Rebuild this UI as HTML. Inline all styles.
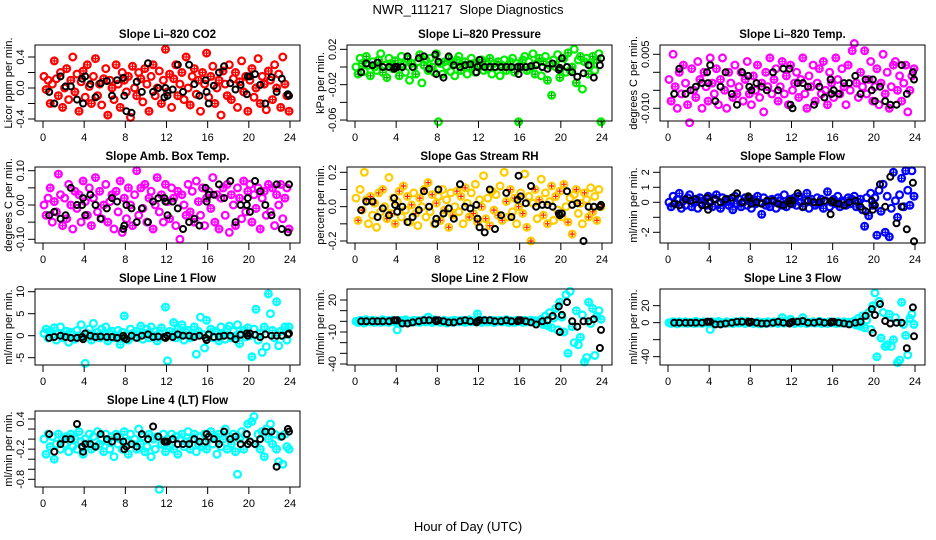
<!DOCTYPE html>
<html><head><meta charset="utf-8"><title>NWR_111217 Slope Diagnostics</title>
<style>
html,body{margin:0;padding:0;background:#fff;}
svg{display:block;font-family:"Liberation Sans",Arial,sans-serif;}
</style></head>
<body>
<svg id="chart" width="936" height="540" viewBox="0 0 936 540" xmlns="http://www.w3.org/2000/svg">
<rect width="936" height="540" fill="#fff"/>
<text x="468" y="14" text-anchor="middle" font-size="13" xml:space="preserve">NWR_111217  Slope Diagnostics</text>
<text x="468" y="531" text-anchor="middle" font-size="13">Hour of Day (UTC)</text>
</svg>
<script>
// ---- data ----
const colorHours = [0.1,0.3,0.5,0.7,0.9,1.1,1.3,1.5,1.7,1.9,2.1,2.3,2.5,2.7,2.9,3.1,3.3,3.5,3.7,3.9,4.1,4.3,4.5,4.7,4.9,5.1,5.3,5.5,5.7,5.9,6.1,6.3,6.5,6.7,6.9,7.1,7.3,7.5,7.7,7.9,8.1,8.3,8.5,8.7,8.9,9.1,9.3,9.5,9.7,9.9,10.1,10.3,10.5,10.7,10.9,11.1,11.3,11.5,11.7,11.9,12.1,12.3,12.5,12.7,12.9,13.1,13.3,13.5,13.7,13.9,14.1,14.3,14.5,14.7,14.9,15.1,15.3,15.5,15.7,15.9,16.1,16.3,16.5,16.7,16.9,17.1,17.3,17.5,17.7,17.9,18.1,18.3,18.5,18.7,18.9,19.1,19.3,19.5,19.7,19.9,20.1,20.3,20.5,20.7,20.9,21.1,21.3,21.5,21.7,21.9,22.1,22.3,22.5,22.7,22.9,23.1,23.3,23.5,23.7,23.9];
const refHours = [0.6,1.1,1.7,2.2,2.7,3.3,3.8,3.9,4.1,4.6,5.1,5.6,6.2,6.7,7.2,7.8,7.9,8.1,8.6,9.1,9.6,10.2,10.7,11.2,11.8,11.9,12.1,12.6,13.1,13.6,14.2,14.7,15.2,15.8,15.9,16.1,16.6,17.1,17.6,18.2,18.7,19.2,19.8,19.9,20.1,20.6,21.1,21.6,22.2,22.7,23.2,23.8,23.9];

const co2Vals = [.15,-.02,.1,-.2,.05,.35,.12,-.1,.2,-.25,.0,.25,-.15,.1,.4,-.05,.18,-.3,.08,.22,-.12,.3,.02,-.2,.15,.38,-.1,.05,-.22,.12,.25,-.35,.1,.0,-.15,.3,.05,-.25,.2,.1,-.05,.15,-.38,.28,.0,-.1,.2,.12,-.18,.25,.05,-.3,.15,.3,-.1,.0,.22,-.2,.1,.5,-.05,.18,-.25,.12,.3,-.1,.05,.2,-.15,.4,.0,-.22,.15,.25,-.08,.1,-.3,.2,.05,.45,-.12,.15,.28,-.2,.0,.1,-.35,.22,.05,-.1,.3,-.15,.12,.2,-.25,.08,.35,-.05,.15,-.3,.1,.25,-.12,.0,.38,-.2,.15,.05,-.28,.22,.1,-.15,.3,.0,.18,-.25,.4,.05,-.1,-.3];
const co2Ref = [-.05,-.2,.15,.02,.02,-.15,.12,-.2,.15,.05,-.12,.06,.09,-.1,.1,.13,-.1,-.3,-.32,.08,-.05,.32,-.05,.0,-.12,.0,-.1,-.02,.3,-.05,.3,.05,-.1,.1,-.05,-.2,.03,.2,.28,.06,-.02,.04,-.08,.15,.15,.18,.04,-.2,.14,-.05,.12,-.08,-.1];

const presVals = [.0,-.008,.01,.004,-.005,.012,.002,-.01,.006,.0,-.004,.008,.015,-.006,.002,-.012,.01,.004,-.002,.007,.0,-.01,.012,.003,-.006,.009,-.015,.004,.0,-.008,.006,.014,-.018,.002,.008,-.004,.01,.0,-.006,.015,-.062,.004,-.008,.006,.0,.01,-.005,.003,-.01,.008,.012,-.004,.002,.006,-.008,.0,.01,.004,-.006,.003,.0,.008,-.004,.006,-.002,.01,-.008,.004,.0,.006,-.01,.002,.008,-.004,.0,.006,.01,-.006,.004,-.062,.002,.008,.012,-.004,.006,.0,.015,-.008,.004,.01,-.01,.006,.012,-.015,.002,-.032,.008,.0,.014,-.012,.004,.01,-.006,.016,-.004,.0,.02,-.018,.008,.012,-.025,.006,.01,-.008,.002,.012,-.004,.008,.015,-.062];
const presRef = [-.006,.004,.002,.005,.0,.0,-.002,.0,.0,.0,.012,.0,.01,.012,-.002,.014,-.008,.006,-.012,.012,.002,.0,.002,.003,-.006,.0,.008,.0,.0,.0,.0,.0,.0,.0,-.008,.0,.0,.001,.002,.0,-.002,.004,-.003,-.001,.01,.0,-.006,-.011,-.007,.002,-.012,.002,.01];

const tempVals = [-.002,-.008,.005,-.004,-.01,.0,-.006,.002,-.003,-.009,-.014,.001,-.005,-.007,.003,-.002,-.01,.0,-.004,-.008,.004,-.003,-.006,.001,-.009,-.002,.004,-.005,-.01,.0,-.003,-.007,.002,-.006,-.004,.0,-.008,-.002,.003,-.006,-.009,-.001,-.005,.002,-.007,-.003,-.011,.0,-.004,.004,-.006,-.002,.001,-.008,-.004,.003,-.006,-.001,-.009,.002,-.005,-.003,.0,-.007,-.002,.004,-.006,-.01,-.001,-.004,.002,-.008,-.003,.001,-.006,.003,-.005,-.009,.0,-.003,-.007,.004,-.002,-.006,.001,-.004,-.009,.002,-.005,.006,.008,-.003,-.007,.0,-.004,.006,-.006,-.002,.003,-.008,-.004,.001,-.009,-.003,.005,-.006,.0,-.01,-.004,.002,.003,-.005,-.001,-.008,-.003,.002,-.011,-.005,-.001,.001];
const tempRef = [-.006,.001,-.006,-.005,-.004,-.003,.0,-.003,.002,-.008,-.004,.0,-.006,-.009,.0,-.001,-.004,-.005,-.003,-.004,-.005,.0,-.005,.001,.001,-.009,-.01,-.003,-.003,-.004,-.009,-.004,-.007,-.002,-.006,-.005,-.006,-.003,-.003,-.001,-.006,-.002,-.005,-.002,-.008,-.004,-.008,-.009,-.009,.002,-.006,.0,-.002];

const ambVals = [.0,-.03,.02,.05,-.05,.01,-.02,.09,.03,-.06,.02,-.04,.06,.0,-.07,.04,-.01,.03,-.05,.07,.01,-.03,.05,-.06,.02,.08,-.02,.04,-.04,.0,.06,-.05,.01,.03,-.07,.04,-.02,.07,-.08,.02,-.04,.05,.0,-.06,.03,.1,-.03,.05,-.01,.06,-.05,.02,.04,-.07,.0,.08,-.02,.03,-.05,.06,.01,-.04,.05,.02,-.06,.04,-.1,.03,.0,-.03,.06,-.02,.04,-.05,.07,.01,-.03,.05,-.06,.02,.04,-.01,.08,-.05,.03,-.07,.02,.05,-.03,.06,-.08,.03,.0,-.06,.05,.02,-.04,.07,-.02,.04,.06,-.05,.03,-.01,.05,-.07,.02,.04,-.03,.06,-.02,.05,-.06,.03,.0,.06,-.04,.02,.05,-.07];
const ambRef = [-.03,-.02,-.04,-.03,.05,.0,.0,.02,-.03,.03,.0,-.04,-.01,.02,.01,-.07,-.06,.0,-.01,-.05,-.01,-.05,.01,.02,.02,.01,-.03,.01,-.01,-.07,-.05,-.04,-.06,.05,.01,.03,.03,.06,.02,.07,-.05,.0,.0,.02,-.02,.07,.04,.0,-.03,.06,-.07,-.08,.06];

const rhVals = [.05,-.08,.1,-.02,.2,.04,-.1,.06,-.05,.02,-.12,.08,-.03,.1,.0,-.07,.17,-.04,.05,-.1,.03,.09,-.06,.12,-.02,.06,-.09,.01,.08,-.04,-.11,.05,.0,.1,-.06,.14,-.03,.07,-.1,.02,.06,-.08,.1,-.02,.04,-.12,.08,-.05,.0,.09,-.03,.06,-.1,.11,.02,-.06,.08,-.04,.13,-.09,.04,.0,.18,-.07,.05,-.11,.09,-.02,.07,-.05,.12,-.08,.2,.03,-.06,.1,-.03,.05,-.1,.0,.08,-.04,.19,-.12,.06,-.2,.02,.1,-.07,.04,.16,-.05,.08,-.1,.03,.12,-.08,.06,-.02,.09,-.06,.13,.0,-.09,.05,-.16,.07,.1,-.04,.02,-.1,.08,.04,-.06,.11,-.03,.06,-.08,.1,.0];
const rhRef = [-.02,.03,.03,-.06,-.01,-.05,.05,.01,-.03,.0,-.09,-.06,-.02,.09,.0,-.1,-.07,.1,-.04,-.01,-.07,.13,.0,-.01,.01,-.07,-.12,-.15,.1,-.13,-.05,.08,-.06,.04,.18,.06,.02,.12,.0,.01,.01,.0,-.04,-.05,-.04,.09,.01,.02,-.2,.0,.0,.0,.01];

const sampVals = [.0,-.3,.4,-.1,.2,.6,-.4,.1,-.2,.3,.5,-.3,.0,.2,-.4,.3,-.1,.1,-.2,.4,.0,-.3,.2,.5,-.1,-.4,.3,.0,.2,-.2,.1,-.5,.4,-.1,.2,-.3,.0,.3,-.2,.1,-.4,.2,-.1,.4,.0,-.8,.3,-.2,.1,-.3,.2,.0,-.4,.3,.1,-.2,.5,-.3,.0,.2,-.1,.3,-.2,.4,.0,-.3,.1,.6,-.4,.2,.0,-.2,.3,-.1,.2,-.4,.1,.7,-.3,.0,.2,-.1,.4,-.3,.1,.0,-.2,.3,-.1,.2,.4,-.3,.0,.2,-.5,-1.6,.3,-.9,.6,-.2,.3,-2.2,.8,-.6,1.2,-2.0,.4,-2.3,-.4,2.0,.1,-1.0,.5,1.6,-.3,2.1,.8,-.2,2.1,.4];
const sampRef = [-.1,-.2,.2,.1,.2,-.2,.3,-.5,.0,.2,.0,.2,.3,.6,.0,.4,.3,-.1,.0,-.1,.1,.1,-.1,-.2,.1,-.1,.1,.6,-.3,.1,.0,.0,.1,-.8,.1,.0,-.1,-.2,.0,.1,-.3,-.6,.1,-.5,-.2,1.2,-.3,1.7,-1.4,-.3,-1.8,1.3,-2.6];

const line1Vals = [.5,1.5,-.5,1.0,.0,1.8,-1.0,.5,2.0,-.5,.0,1.0,-1.5,.8,.3,-.8,1.2,.0,2.5,-.3,-6.3,.5,1.5,-1.0,2.8,.0,.8,-.5,1.5,.2,2.0,-1.2,.5,1.0,-.5,.0,1.2,-2.0,.8,4.5,.0,-1.0,1.5,.5,-.3,1.0,.2,2.2,-.8,.5,1.5,-.5,2.0,.0,1.0,-1.2,.6,1.8,-.3,6.5,-5.7,1.0,.2,3.0,-.5,1.5,.0,2.5,-1.0,.8,1.2,-.5,.0,2.0,-4.2,1.0,4.2,.3,-2.8,3.5,.0,1.5,-.5,1.0,.8,-1.2,2.0,.3,-.8,1.5,2.2,-.5,1.0,.0,2.5,-1.8,.5,1.2,-.3,1.8,.0,-4.8,1.5,6.0,-1.0,.5,-3.8,2.0,-2.5,9.5,5.0,1.2,-.5,7.7,-2.3,1.0,.0,2.0,-1.0,2.0];
const line1Ref = [-.5,-.3,.0,-.3,-.5,-.5,-.3,-.8,.5,.0,-.3,-.2,-.3,-.3,-.5,.0,-.5,-.8,.0,-.5,.0,.3,-.3,-.2,-.3,-.5,.0,-.3,.3,.0,.0,-.3,.0,-.5,-1.0,.3,-.3,-.2,.0,.0,-.8,.2,.5,.0,.5,.2,-.3,.3,.0,.0,.0,.3,.5];

const line2Vals = [0,-1,1,.5,-1.5,1.5,0,-.5,1,-1,.5,0,-1,1.5,-.5,.5,-1,1,0,-.5,-8,1,0,-1,1.5,.5,-1,0,1,-.5,.5,-1,1,0,-.5,4,0,-1,1.5,.5,0,-1,.5,1,-1.5,0,.5,-1,1,0,-.5,1,0,-1,.5,1.5,-.5,0,1,7,0,-1,1,.5,-.5,0,1,-1,.5,0,1,-.5,0,1.5,-1,.5,0,-1,1,0,.5,-1,1,-.5,0,1,-.5,.5,0,-1,2,-3,5,-4,8,-6,3,12,-8,18,4,-10,25,-30,28,-5,-20,10,-22,-15,6,-38,-34,18,-2,12,-32,5,10,2];
const line2Ref = [0,0,0,0,0,0,1,1,1,-2,-2,-1,0,1,1,1,0,1,0,-1,-1,0,1,0,-1,0,1,1,1,0,0,1,0,0,1,1,0,-1,-3,0,1,5,14,-10,6,18,0,-5,0,0,2,-25,-8];

const line3Vals = [0,-1,1,.5,-1.5,1,0,-.5,1,-1,.5,0,-1,1.5,-.5,.5,-1,1,0,-.5,-8,1,0,-1,1.5,.5,-1,0,1,-.5,.5,-1,1,0,-.5,2,0,-1,1.5,.5,0,-1,.5,1,-1.5,0,.5,-1,1,0,-.5,1,0,-1,.5,6,-.5,0,1,4,0,-1,1,.5,-.5,6,1,-1,.5,0,1,-.5,0,1.5,-1,.5,0,-1,1,0,.5,-1,1,-.5,0,1,-.5,.5,0,-1,2,-3,5,-4,8,-6,3,12,-8,20,35,-40,25,-18,12,-28,-26,10,-28,-20,6,-47,-44,24,-2,-15,-38,5,10,-2];
const line3Ref = [0,0,0,0,0,0,1,1,1,-2,-2,-1,0,1,1,1,0,1,0,-1,-1,0,1,0,-1,0,1,1,2,0,0,1,0,0,1,1,0,-1,-2,0,1,8,16,-12,9,22,2,-1,0,0,-30,18,-16];

const line4Vals = [.0,-.3,.1,-.15,.05,-.4,-.1,.1,-.2,.0,-.1,.05,-.25,.1,-.15,.0,-.2,.15,-.05,-.3,.0,-.1,.1,-.2,.05,-.15,.15,-.1,.0,-.25,.1,-.05,-.2,.05,-.35,.1,-.1,.0,-.2,.15,-.05,-.3,.1,-.1,.0,-.2,.2,-.1,.05,-.25,-.15,.1,-.35,.0,-.2,.05,-1.0,-.1,.1,-.25,.0,-.15,.1,-.2,.05,-.3,.0,.1,-.15,-.05,.15,-.2,.0,.1,-.25,-.1,.05,-.15,.1,-.2,.0,.15,-.1,.05,-.3,.1,-.15,.0,.2,-.2,.05,-.1,.1,-.25,-.7,.0,.15,-.2,.1,.3,-.05,.35,.45,-.1,.1,-.2,.15,-.35,.2,.0,.3,-.1,.1,-.2,-.45,.05,-.5,.1,-.15,-.2];
const line4Ref = [.1,-.25,-.1,.0,.0,.3,-.15,-.25,-.1,-.1,-.15,.1,.0,-.05,.05,-.05,-.2,-.15,-.1,-.15,.1,.0,.25,.05,-.05,-.05,-.05,.0,-.1,-.1,-.1,.0,-.05,-.05,.1,.05,.0,-.1,.15,.0,.05,-.1,.1,-.1,-.05,-.1,.0,.15,.15,-.55,.05,.2,.15];

const xTickValues = [0,4,8,12,16,20,24];

// ---- drawing ----
const NS = 'http://www.w3.org/2000/svg';
const svg = document.getElementById('chart');
function mk(tag, attrs, parent){
  const e = document.createElementNS(NS, tag);
  for (const k in attrs) e.setAttribute(k, attrs[k]);
  (parent||svg).appendChild(e);
  return e;
}
const panels = [
  {title:'Slope Li\u2013820 CO2', ylab:'Licor ppm per min.', col:0,row:0, top:0.555, bot:-0.426, vals:co2Vals, ref:co2Ref, color:'#ff0000', cross:'#ff0000', ticks:[0.4,0.2,0,-0.2,-0.4], labels:['0.4','','0.0','','-0.4'], name:'co2'},
  {title:'Slope Li\u2013820 Pressure', ylab:'kPa per min.', col:1,row:0, top:0.0249, bot:-0.0611, vals:presVals, ref:presRef, color:'#00ee00', cross:'#00aa00', ticks:[0.02,0,-0.02,-0.04,-0.06], labels:['0.02','','-0.02','','-0.06'], name:'pressure'},
  {title:'Slope Li\u2013820 Temp.', ylab:'degrees C per min.', col:2,row:0, top:0.00758, bot:-0.01353, vals:tempVals, ref:tempRef, color:'#ff00ff', cross:'#ff00ff', ticks:[0.005,0,-0.005,-0.010], labels:['0.005','','','-0.010'], name:'li820-temp'},
  {title:'Slope Amb. Box Temp.', ylab:'degrees C per min.', col:0,row:1, top:0.1108, bot:-0.1108, vals:ambVals, ref:ambRef, color:'#ff00ff', cross:'#ff00ff', ticks:[0.1,0.05,0,-0.05,-0.1], labels:['0.10','','0.00','','-0.10'], name:'amb-box-temp'},
  {title:'Slope Gas Stream RH', ylab:'percent per min.', col:1,row:1, top:0.2309, bot:-0.2116, vals:rhVals, ref:rhRef, color:'#ffcc00', cross:'#ff2000', ticks:[0.2,0.1,0,-0.1,-0.2], labels:['0.2','','0.0','','-0.2'], name:'gas-stream-rh'},
  {title:'Slope Sample Flow', ylab:'ml/min per min.', col:2,row:1, top:2.353, bot:-2.713, vals:sampVals, ref:sampRef, color:'#0000ff', cross:'#0000ff', ticks:[2,1,0,-1,-2], labels:['2','1','0','','-2'], name:'sample-flow'},
  {title:'Slope Line 1 Flow', ylab:'ml/min per min.', col:0,row:2, top:10.61, bot:-6.66, vals:line1Vals, ref:line1Ref, color:'#00ffff', cross:'#00ffff', ticks:[10,5,0,-5], labels:['10','5','0','-5'], name:'line1-flow'},
  {title:'Slope Line 2 Flow', ylab:'ml/min per min.', col:1,row:2, top:30.31, bot:-40.94, vals:line2Vals, ref:line2Ref, color:'#00ffff', cross:'#00ffff', ticks:[20,10,0,-10,-20,-30,-40], labels:['20','','','-10','','','-40'], name:'line2-flow'},
  {title:'Slope Line 3 Flow', ylab:'ml/min per min.', col:2,row:2, top:39.6, bot:-49.8, vals:line3Vals, ref:line3Ref, color:'#00ffff', cross:'#00ffff', ticks:[20,0,-20,-40], labels:['20','0','','-40'], name:'line3-flow'},
  {title:'Slope Line 4 (LT) Flow', ylab:'ml/min per min.', col:0,row:3, top:0.559, bot:-0.953, vals:line4Vals, ref:line4Ref, color:'#00ffff', cross:'#00ffff', ticks:[0.4,0.2,0,-0.2,-0.4,-0.6,-0.8], labels:['0.4','','','-0.2','','','-0.8'], name:'line4-flow'}
];
const colDX=[0,312,625], rowDY=[0,122,244,366];
panels.forEach(p=>{
  const L=35+colDX[p.col], R=300+colDX[p.col], T=45+rowDY[p.row], B=121+rowDY[p.row];
  const x0=43+colDX[p.col], xw=247;
  const xs=h=>x0+h*xw/24;
  const ys=v=>T+(p.top-v)/(p.top-p.bot)*(B-T);
  const g=mk('g',{});
  
  
  const t=mk('text',{x:(L+R)/2,y:T-7,'text-anchor':'middle','font-size':11.5,'font-weight':'bold'},g);
  t.textContent=p.title;
  
  
  const yl=mk('text',{x:0,y:0,'text-anchor':'middle','font-size':11,transform:`translate(${L-23},${(T+B)/2}) rotate(-90)`},g);
  yl.textContent=p.ylab;
  
  
  const cg=mk('g',{fill:'none'},g);
  
  
  const n=Math.min(colorHours.length,p.vals.length);
  for(let i=0;i<n;i++){
    const cx=xs(colorHours[i]), cy=ys(p.vals[i]);
    const c=mk('circle',{cx:cx.toFixed(1),cy:cy.toFixed(1),r:3.4,stroke:p.color,'stroke-width':2.2},cg);
    
    
    if(i%2===1){
      mk('path',{d:`M${(cx-2.5).toFixed(1)} ${cy.toFixed(1)}h5M${cx.toFixed(1)} ${(cy-2.5).toFixed(1)}v5`,stroke:p.cross,'stroke-width':1.2},cg);
    }
  }
  const bg=mk('g',{fill:'none'},g);
  
  
  const m=Math.min(refHours.length,p.ref.length);
  for(let i=0;i<m;i++){
    const c=mk('circle',{cx:xs(refHours[i]).toFixed(1),cy:ys(p.ref[i]).toFixed(1),r:3,stroke:'#000','stroke-width':2},bg);
    
    
  }
  const box=mk('rect',{x:L,y:T,width:R-L,height:B-T,fill:'none',stroke:'#000','stroke-width':1},g);
  
  
  xTickValues.forEach(h=>{
    const x=xs(h);
    mk('line',{x1:x,y1:B,x2:x,y2:B+7,stroke:'#000','stroke-width':1},g);
    const tl=mk('text',{x:x,y:B+20,'text-anchor':'middle','font-size':11},g);
    tl.textContent=String(h);
    
    
  });
  p.ticks.forEach((v,i)=>{
    const y=ys(v);
    mk('line',{x1:L,y1:y,x2:L-7,y2:y,stroke:'#000','stroke-width':1},g);
    if(p.labels[i]){
      const tl=mk('text',{x:0,y:0,'text-anchor':'middle','font-size':11,transform:`translate(${L-11},${y}) rotate(-90)`},g);
      tl.textContent=p.labels[i];
      
      
    }
  });
});
</script>
</body></html>
